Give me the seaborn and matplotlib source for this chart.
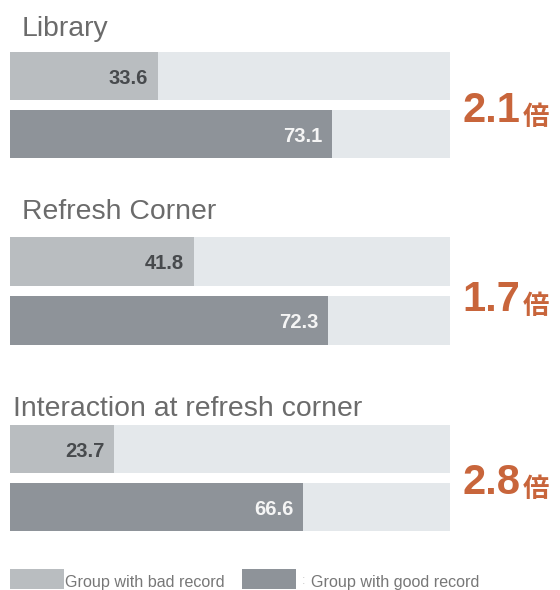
import matplotlib
matplotlib.use("Agg")
import matplotlib.pyplot as plt
from matplotlib.patches import Rectangle
import seaborn as sns
import pandas as pd

# Share of users (%) in each group, per section of the service
sections = ["Library", "Refresh Corner", "Interaction at refresh corner"]
bad_record = [33.6, 41.8, 23.7]
good_record = [73.1, 72.3, 66.6]
ratios = ["2.1", "1.7", "2.8"]
groups = ["Group with bad record", "Group with good record"]
full_scale = 100

W, H = 560, 590
TRACK = "#e4e8eb"
BAD = "#b9bdc0"
GOOD = "#8e9399"
ORANGE = "#c8653b"
TITLE = "#6b6b6b"
LEGEND_TEXT = "#777777"

sns.set_theme(style="white")
plt.rcParams["font.family"] = ["Liberation Sans", "DejaVu Sans"]

fig = plt.figure(figsize=(W / 100, H / 100), dpi=100)
fig.patch.set_facecolor("white")


def px(x, y):
    """Pixel position (from top-left) to figure fraction."""
    return x / W, 1 - y / H


# per panel: title x, title baseline, top of bars, bottom of bars, ratio baseline
panels = [
    (22, 36, 52, 158, 122),
    (22, 219, 237, 345, 311),
    (13, 416, 425, 531, 494),
]
BAR = 48 / 58

for i, (tx, tb, top, bot, rb) in enumerate(panels):
    ax = fig.add_axes([10 / W, 1 - bot / H, 440 / W, (bot - top) / H])
    df = pd.DataFrame({"group": groups, "value": [bad_record[i], good_record[i]]})
    track = pd.DataFrame({"group": groups, "value": [full_scale] * 2})

    sns.barplot(data=track, x="value", y="group", color=TRACK, width=BAR,
                saturation=1, linewidth=0, ax=ax)
    sns.barplot(data=df, x="value", y="group", hue="group",
                palette=[BAD, GOOD], width=BAR, saturation=1, linewidth=0,
                legend=False, ax=ax)

    ax.set_xlim(0, full_scale)
    ax.set_ylim(1 + BAR / 2, -BAR / 2)
    ax.axis("off")

    for j, v in enumerate(df["value"]):
        ax.annotate(f"{v:.1f}", xy=(v, j), xytext=(-7, -1.5),
                    textcoords="offset points", ha="right", va="center",
                    fontsize=14.5, fontweight="bold",
                    color=["#474a4d", "#f5f5f5"][j])

    fig.text(*px(tx, tb), sections[i], fontsize=20.4, color=TITLE,
             ha="left", va="baseline")

    t = fig.text(*px(462, rb), ratios[i], fontsize=30, fontweight="bold",
                 color=ORANGE, ha="left", va="baseline")
    ax.annotate("倍", xy=(1, 0), xycoords=t, xytext=(2, 0),
                textcoords="offset points", ha="left", va="bottom",
                fontsize=19, fontweight="bold", color=ORANGE,
                family=["Noto Sans CJK JP", "DejaVu Sans"])

# legend
for x0, color in [(10, BAD), (242, GOOD)]:
    fig.add_artist(Rectangle(px(x0, 589), 54 / W, 20 / H,
                             transform=fig.transFigure, color=color, lw=0))
fig.text(*px(65, 587), groups[0], fontsize=11.6, color=LEGEND_TEXT, va="baseline")
fig.text(*px(302, 584), ":", fontsize=9, color="#c8c8c8", va="baseline")
fig.text(*px(311, 587), groups[1], fontsize=11.6, color=LEGEND_TEXT, va="baseline")

fig.savefig("out.png", dpi=100, facecolor="white")
